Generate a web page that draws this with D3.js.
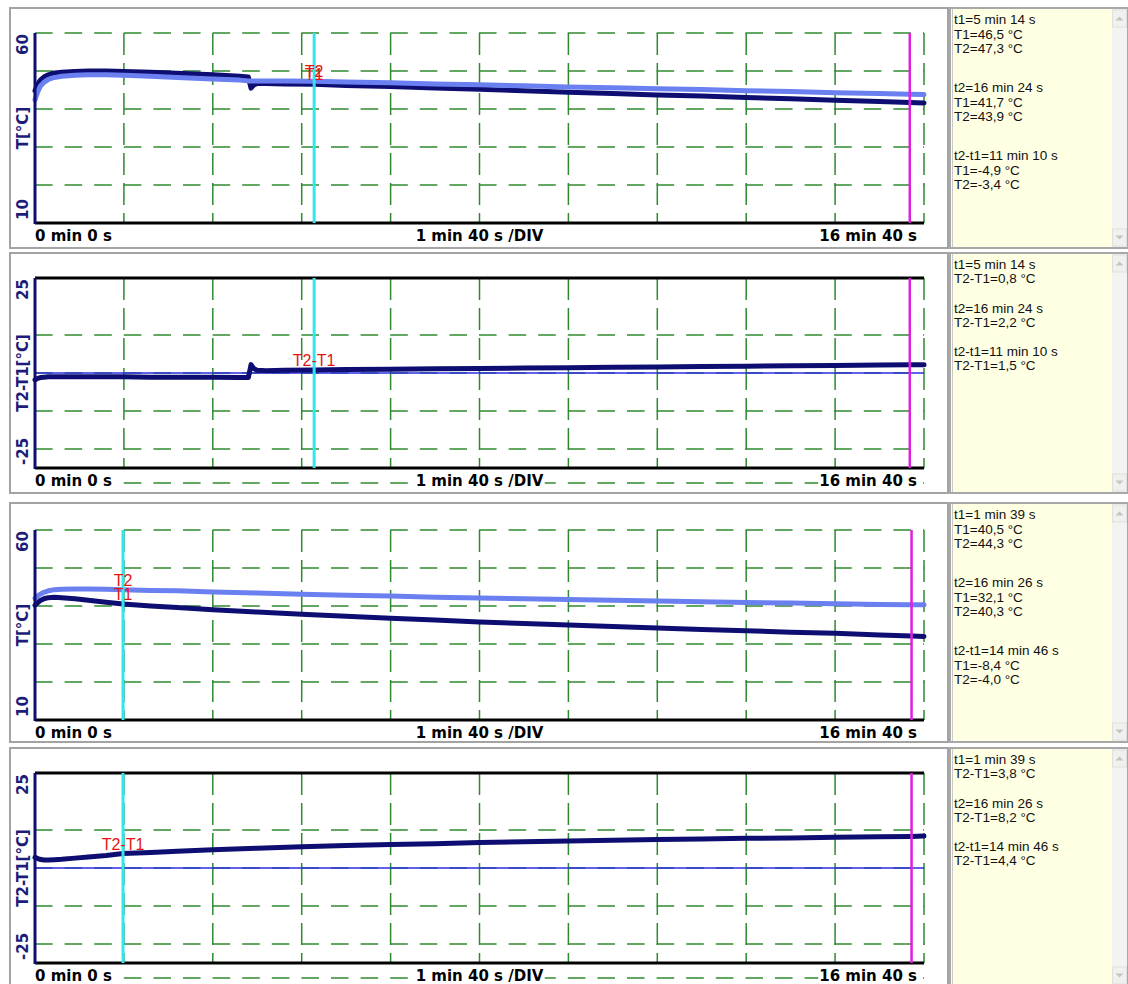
<!DOCTYPE html>
<html><head><meta charset="utf-8">
<script src="https://cdn.jsdelivr.net/npm/d3@7"></script>
<style>html,body{margin:0;padding:0;background:#fff;} svg{display:block}</style>
</head><body>
<svg id="c" width="1128" height="984"></svg>
<script>
// ---------- DATA ----------
// Experiment A (panels 1 & 2) – time in seconds
const timeA = [0,3,6,10,15,20,30,45,60,80,100,130,160,200,230,240,243,246,250,260,280,314,350,400,450,500,550,600,650,700,750,800,850,900,950,984,1000];
const T1A = [44.8,46.5,47.6,48.4,49.0,49.4,49.7,49.9,50.0,50.0,49.9,49.7,49.4,49.0,48.6,48.4,45.5,46.3,46.7,46.7,46.6,46.5,46.2,45.9,45.5,45.2,44.8,44.4,44.1,43.7,43.4,43.0,42.7,42.3,42.0,41.7,41.6];
const T2A = [42.4,44.5,46.0,47.0,47.8,48.2,48.6,48.9,49.0,49.0,48.9,48.6,48.3,47.9,47.6,47.4,47.4,47.4,47.4,47.4,47.4,47.3,47.1,46.9,46.6,46.4,46.1,45.8,45.6,45.3,45.1,44.8,44.6,44.3,44.1,43.9,43.8];
const diffA = [-1.8,-1.4,-1.2,-1.1,-1.0,-1.0,-1.0,-1.0,-1.0,-1.0,-1.0,-1.1,-1.1,-1.1,-1.2,-1.2,2.2,1.2,0.7,0.6,0.7,0.8,0.9,1.0,1.1,1.2,1.3,1.4,1.5,1.6,1.7,1.8,1.9,2.0,2.1,2.2,2.2];
const cursorsA = [314, 984];
const cursorValsA = {T1: 46.5, T2: 47.3, D: 0.8};

// Experiment B (panels 3 & 4)
const timeB = [0,5,10,15,22,30,45,60,80,99,130,160,200,250,300,350,400,450,500,550,600,650,700,750,800,850,900,950,986,1000];
const T1B = [40.2,41.3,41.9,42.2,42.3,42.2,41.9,41.5,41.0,40.5,40.0,39.6,39.0,38.4,37.8,37.3,36.8,36.3,35.8,35.4,35.0,34.6,34.2,33.8,33.5,33.1,32.8,32.4,32.1,32.0];
const T2B = [42.0,43.0,43.6,44.0,44.3,44.4,44.5,44.5,44.4,44.3,44.1,44.0,43.7,43.4,43.1,42.8,42.6,42.3,42.1,41.9,41.7,41.5,41.3,41.1,40.9,40.8,40.6,40.4,40.3,40.3];
const diffB = [2.8,2.3,2.1,2.1,2.2,2.3,2.6,2.9,3.3,3.8,4.1,4.4,4.8,5.2,5.6,5.9,6.2,6.4,6.7,6.9,7.1,7.3,7.5,7.6,7.8,7.9,8.1,8.2,8.3,8.4];
const cursorsB = [99, 986];
const cursorValsB = {T1: 40.5, T2: 44.3, D: 3.8};

// axes / tick labels
const timeDomain = [0, 1000];
const timeTicks = [100,200,300,400,500,600,700,800,900,1000];
const xLabels = ["0 min 0 s", "1 min 40 s /DIV", "16 min 40 s"];
const tDomain = [10, 60];
const tGrid = [60, 50, 40, 30, 20];
const tLabels = ["60", "T[°C]", "10"];
const dDomain = [-25, 25];
const dGrid = [10, 0, -10, -20];
const dLabels = ["25", "T2-T1[°C]", "-25"];

// info texts
const infoA1 = [["t1=5 min 14 s","T1=46,5 °C","T2=47,3 °C"],["t2=16 min 24 s","T1=41,7 °C","T2=43,9 °C"],["t2-t1=11 min 10 s","T1=-4,9 °C","T2=-3,4 °C"]];
const infoA2 = [["t1=5 min 14 s","T2-T1=0,8 °C"],["t2=16 min 24 s","T2-T1=2,2 °C"],["t2-t1=11 min 10 s","T2-T1=1,5 °C"]];
const infoB1 = [["t1=1 min 39 s","T1=40,5 °C","T2=44,3 °C"],["t2=16 min 26 s","T1=32,1 °C","T2=40,3 °C"],["t2-t1=14 min 46 s","T1=-8,4 °C","T2=-4,0 °C"]];
const infoB2 = [["t1=1 min 39 s","T2-T1=3,8 °C"],["t2=16 min 26 s","T2-T1=8,2 °C"],["t2-t1=14 min 46 s","T2-T1=4,4 °C"]];

// ---------- DRAW ----------
const svg = d3.select("#c");
const C = {dark:"#0e0e72", light:"#6b80f0", grid:"#2f8a2f", cyan:"#32e6ee", mag:"#e01ee0", red:"#e41414", axisLbl:"#1c1c7a"};
const x = d3.scaleLinear().domain(timeDomain).range([35, 924]);
const H = 190;

const panels = [
  {box:[8,248], top:33, kind:"T", time:timeA, series:[T1A,T2A], cursors:cursorsA, cv:cursorValsA, info:infoA1},
  {box:[253,493], top:278, kind:"D", time:timeA, series:[diffA], cursors:cursorsA, cv:cursorValsA, info:infoA2},
  {box:[503,742], top:530, kind:"T", time:timeB, series:[T1B,T2B], cursors:cursorsB, cv:cursorValsB, info:infoB1},
  {box:[748,986], top:773, kind:"D", time:timeB, series:[diffB], cursors:cursorsB, cv:cursorValsB, info:infoB2}
];

panels.forEach(p => {
  const g = svg.append("g");
  const bottom = p.top + H;
  const isT = p.kind === "T";
  const y = d3.scaleLinear().domain(isT ? tDomain : dDomain).range([bottom, p.top]);

  // frames
  g.append("rect").attr("x",10).attr("y",p.box[0]).attr("width",938).attr("height",p.box[1]-p.box[0])
    .attr("fill","#fff").attr("stroke","#a3a3a3").attr("stroke-width",2);
  g.append("rect").attr("x",950).attr("y",p.box[0]).attr("width",178).attr("height",p.box[1]-p.box[0])
    .attr("fill","#ffffe3").attr("stroke","#a8a8a8").attr("stroke-width",2);
  g.append("line").attr("x1",952.5).attr("x2",952.5).attr("y1",p.box[0]+1).attr("y2",p.box[1]-1).attr("stroke","#c8c8c8");
  // scrollbar
  g.append("rect").attr("x",1112).attr("y",p.box[0]+1).attr("width",15).attr("height",p.box[1]-p.box[0]-2).attr("fill","#f3f3f1");
  [[p.box[0]+2, -1],[p.box[1]-19, 1]].forEach(([by,dir]) => {
    g.append("rect").attr("x",1112.5).attr("y",by).attr("width",14).attr("height",17).attr("fill","#f0f0ee").attr("stroke","#e0e0dc");
    const cx = 1119.5, cy = by+8.5;
    g.append("path").attr("d", `M${cx-4},${cy-2*dir} L${cx+4},${cy-2*dir} L${cx},${cy+2*dir} Z`).attr("fill","#c4c4c4");
  });

  // horizontal grid
  const grid = isT ? tGrid : dGrid;
  grid.forEach(v => {
    g.append("line").attr("x1",35).attr("x2",924).attr("y1",y(v)).attr("y2",y(v))
      .attr("stroke",C.grid).attr("stroke-width",1.5).attr("stroke-dasharray","17.6,12");
  });
  // dashed guide in the label row of the difference panels
  if (!isT) {
    g.append("line").attr("x1",35).attr("x2",924).attr("y1",bottom+15).attr("y2",bottom+15)
      .attr("stroke",C.grid).attr("stroke-width",1.5).attr("stroke-dasharray","17.6,12");
  }
  // vertical grid
  timeTicks.forEach(t => {
    g.append("line").attr("x1",x(t)).attr("x2",x(t)).attr("y1",p.top).attr("y2",bottom)
      .attr("stroke",C.grid).attr("stroke-width",1.5).attr("stroke-dasharray","22,8");
  });

  // zero line for diff panels
  if (!isT) {
    g.append("line").attr("x1",35).attr("x2",924).attr("y1",y(0)).attr("y2",y(0)).attr("stroke","#2c2ce6").attr("stroke-width",1.3);
    g.append("line").attr("x1",35).attr("x2",924).attr("y1",p.top).attr("y2",p.top).attr("stroke","#000").attr("stroke-width",3);
  }

  // data lines
  const colors = isT ? [C.dark, C.light] : [C.dark];
  p.series.forEach((s, i) => {
    const line = d3.line().x((d,j) => x(p.time[j])).y(d => y(d));
    g.append("path").datum(s).attr("d", line).attr("fill","none").attr("stroke",colors[i])
      .attr("stroke-width",5).attr("stroke-linejoin","round").attr("stroke-linecap","round");
  });

  // axes
  g.append("line").attr("x1",35).attr("x2",924).attr("y1",bottom).attr("y2",bottom).attr("stroke","#000").attr("stroke-width",3);
  g.append("line").attr("x1",35).attr("x2",35).attr("y1",p.top).attr("y2",bottom+1).attr("stroke",C.dark).attr("stroke-width",3);

  // cursors
  g.append("line").attr("x1",x(p.cursors[0])).attr("x2",x(p.cursors[0])).attr("y1",p.top).attr("y2",bottom).attr("stroke",C.cyan).attr("stroke-width",3);
  g.append("line").attr("x1",x(p.cursors[1])).attr("x2",x(p.cursors[1])).attr("y1",p.top).attr("y2",bottom).attr("stroke",C.mag).attr("stroke-width",2.5);

  // red cursor labels
  const lbls = isT ? [["T1", p.cv.T1],["T2", p.cv.T2]] : [["T2-T1", p.cv.D]];
  lbls.forEach(([txt, v]) => {
    g.append("text").attr("x", x(p.cursors[0])).attr("y", y(v) - 4).attr("text-anchor","middle")
      .attr("font-family","Liberation Sans, Arial, sans-serif").attr("font-size",16).attr("fill",C.red).text(txt);
  });

  // y labels (rotated)
  const yl = isT ? tLabels : dLabels;
  const fy = "DejaVu Sans, sans-serif";
  const mk = (t, yy, anchor) => g.append("text").attr("transform",`translate(28,${yy}) rotate(-90)`)
      .attr("text-anchor",anchor).attr("font-family",fy).attr("font-weight","bold").attr("font-size",15)
      .attr("fill",C.axisLbl).text(t);
  mk(yl[0], p.top + 1, "end");
  mk(yl[1], p.top + H/2, "middle");
  mk(yl[2], bottom - 3, "start");

  // x labels
  const by = bottom + 18;
  const xl = [[xLabels[0], 35, "start"],[xLabels[1], x(500), "middle"],[xLabels[2], 917, "end"]];
  xl.forEach(([t, xx, anchor]) => {
    const tx = g.append("text").attr("x",xx).attr("y",by).attr("text-anchor",anchor)
      .attr("font-family",fy).attr("font-weight","bold").attr("font-size",15).attr("fill","#000").text(t);
    if (!isT) {
      const bb = tx.node().getBBox();
      g.insert("rect", () => tx.node()).attr("x",bb.x - (anchor==="start"?0:1)).attr("y",bb.y).attr("width",bb.width + (anchor==="start"?4:2)).attr("height",bb.height).attr("fill","#fff");
    }
  });

  // info text
  const nLines = p.info[0].length;
  const lineStep = nLines === 3 ? 14.6 : 14.3;
  const groupStep = nLines === 3 ? 68 : 43.5;
  p.info.forEach((grp, gi) => {
    grp.forEach((ln, li) => {
      g.append("text").attr("x",954).attr("y", p.box[0] + 16 + gi*groupStep + li*lineStep)
        .attr("font-family","Liberation Sans, Arial, sans-serif").attr("font-size",13.5).attr("fill","#111").text(ln);
    });
  });
});
</script>
</body></html>
